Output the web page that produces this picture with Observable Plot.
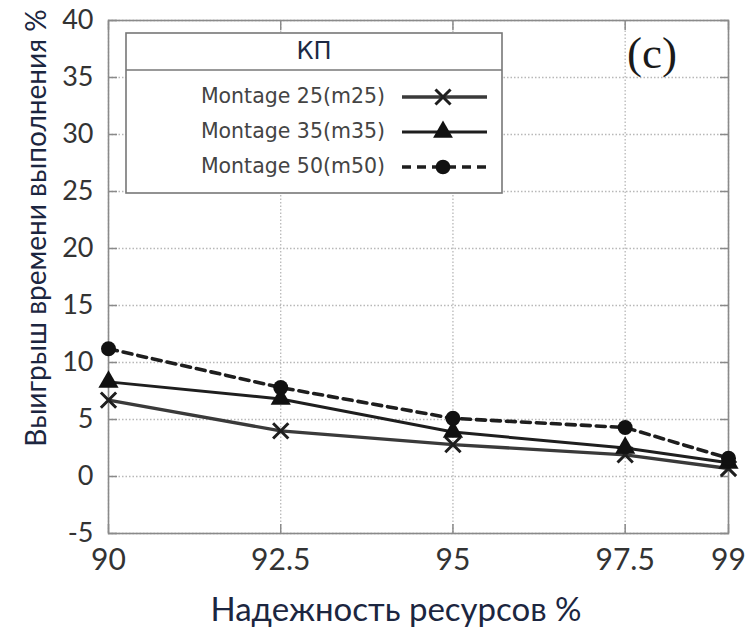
<!DOCTYPE html>
<html><head><meta charset="utf-8">
<script src="https://cdn.jsdelivr.net/npm/d3@7"></script>
<script src="https://cdn.jsdelivr.net/npm/@observablehq/plot@0.6"></script>
<style>body{margin:0;background:#fff}</style>
</head><body><div id="chart"></div>
<script>
const reliability = [90, 92.5, 95, 97.5, 99];
const m25 = [6.7, 4.0, 2.8, 1.9, 0.7];
const m35 = [8.3, 6.8, 3.9, 2.5, 1.2];
const m50 = [11.2, 7.8, 5.1, 4.3, 1.6];
const seriesNames = ["Montage 25(m25)", "Montage 35(m35)", "Montage 50(m50)"];
const yTicks = [-5, 0, 5, 10, 15, 20, 25, 30, 35, 40];
const xTicks = [90, 92.5, 95, 97.5, 99];
const legendTitle = "КП";
const panelLabel = "(c)";
const yTitle = "Выигрыш времени выполнения %";
const xTitle = "Надежность ресурсов %";

const seriesVals = [m25, m35, m50];
const styles = [
  {stroke: "#3a3a3a", strokeWidth: 3.4, dash: null},
  {stroke: "#1e1e1e", strokeWidth: 3, dash: null},
  {stroke: "#1e1e1e", strokeWidth: 3.6, dash: "9,6"}
];
const data = seriesNames.flatMap((s, i) => reliability.map((x, j) => ({series: s, idx: i, x, y: seriesVals[i][j]})));

const gridStyle = {stroke: "#b8b8b8", strokeOpacity: 1, strokeWidth: 1.3, strokeDasharray: "1.5,2"};
const chart = Plot.plot({
  width: 753, height: 632,
  marginLeft: 108, marginRight: 25, marginTop: 20, marginBottom: 99,
  x: {domain: [90, 99]},
  y: {domain: [-5, 40]},
  marks: [
    Plot.gridY(yTicks, gridStyle),
    Plot.gridX(xTicks, gridStyle),
    Plot.axisY(yTicks, {anchor: "left", tickSize: 0, tickPadding: 15, fontSize: 27, fontFamily: "Lato", fill: "#333", label: null, tickFormat: d => String(d)}),
    Plot.axisY(yTicks, {anchor: "left", tickSize: -9, text: null, stroke: "#8a8a8a", strokeWidth: 1.5, label: null}),
    Plot.axisY(yTicks, {anchor: "right", tickSize: -9, text: null, stroke: "#8a8a8a", strokeWidth: 1.5, label: null}),
    Plot.axisX(xTicks, {anchor: "bottom", tickSize: 0, tickPadding: 15, fontSize: 30, fontFamily: "Lato", fill: "#333", label: null, tickFormat: d => String(d)}),
    Plot.axisX(xTicks, {anchor: "bottom", tickSize: -9, text: null, stroke: "#8a8a8a", strokeWidth: 1.5, label: null}),
    Plot.axisX(xTicks, {anchor: "top", tickSize: -9, text: null, stroke: "#8a8a8a", strokeWidth: 1.5, label: null}),
    Plot.frame({stroke: "#8a8a8a", strokeWidth: 1.6}),
    ...seriesNames.map((s, i) => Plot.line(data.filter(d => d.idx === i), {x: "x", y: "y", stroke: styles[i].stroke, strokeWidth: styles[i].strokeWidth, strokeDasharray: styles[i].dash})),
    Plot.dot(data.filter(d => d.idx === 0), {x: "x", y: "y", symbol: "times", r: 7, stroke: "#1e1e1e", strokeWidth: 3}),
    Plot.dot(data.filter(d => d.idx === 1), {x: "x", y: "y", symbol: "triangle", r: 7.5, fill: "#111", stroke: "none"}),
    Plot.dot(data.filter(d => d.idx === 2), {x: "x", y: "y", symbol: "circle", r: 7.5, fill: "#111", stroke: "none"})
  ]
});

const svg = d3.select(chart);
// axis titles
svg.append("text").attr("transform", "translate(46,228) rotate(-90)").attr("text-anchor", "middle")
  .attr("font-family", "Lato").attr("font-size", 28).attr("fill", "#1c2640").text(yTitle);
svg.append("text").attr("x", 396).attr("y", 621).attr("text-anchor", "middle")
  .attr("font-family", "Lato").attr("font-size", 33).attr("fill", "#1c2640").text(xTitle);

// legend and panel label
const lg = svg.append("g");
const L = {x0: 126, x1: 502, y0: 33, y1: 193, yDiv: 70};
lg.append("rect").attr("x", L.x0).attr("y", L.y0).attr("width", L.x1 - L.x0).attr("height", L.y1 - L.y0)
  .attr("fill", "#fff").attr("stroke", "#777").attr("stroke-width", 1.6);
lg.append("line").attr("x1", L.x0).attr("x2", L.x1).attr("y1", L.yDiv).attr("y2", L.yDiv).attr("stroke", "#777").attr("stroke-width", 1.6);
lg.append("text").attr("x", (L.x0 + L.x1) / 2).attr("y", 52).attr("text-anchor", "middle").attr("dominant-baseline", "middle")
  .attr("font-family", "DejaVu Sans").attr("font-size", 24).attr("fill", "#1c2a44").text(legendTitle);
const rowY = [97, 132, 167];
const symGen = [d3.symbolTimes, d3.symbolTriangle, d3.symbolCircle];
seriesNames.forEach((s, i) => {
  const y = rowY[i];
  lg.append("text").attr("x", 385).attr("y", y).attr("text-anchor", "end").attr("dominant-baseline", "middle")
    .attr("font-family", "DejaVu Sans").attr("font-size", 20.5).attr("fill", "#444").text(s);
  lg.append("line").attr("x1", 402).attr("x2", 487).attr("y1", y).attr("y2", y)
    .attr("stroke", styles[i].stroke).attr("stroke-width", styles[i].strokeWidth)
    .attr("stroke-dasharray", styles[i].dash);
  const p = lg.append("path").attr("transform", `translate(443,${y})`)
    .attr("d", d3.symbol(symGen[i], i === 0 ? 150 : 170)());
  if (i === 0) p.attr("fill", "none").attr("stroke", "#1e1e1e").attr("stroke-width", 3);
  else p.attr("fill", "#111");
});
svg.append("text").attr("x", 652).attr("y", 68).attr("text-anchor", "middle")
  .attr("font-family", "Liberation Serif").attr("font-size", 45).attr("fill", "#1a1a1a").text(panelLabel);

document.getElementById("chart").appendChild(chart);
</script></body></html>
